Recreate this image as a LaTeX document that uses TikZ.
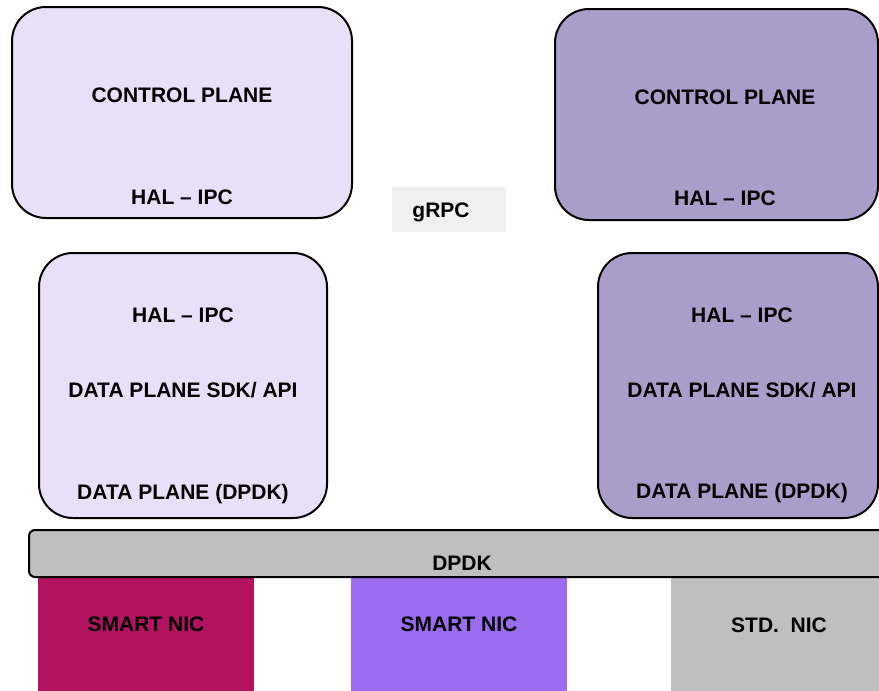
\documentclass[tikz,border=0pt]{standalone}
\usepackage{fontspec}
\setmainfont{Liberation Sans}
\definecolor{lilac}{RGB}{232,224,248}
\definecolor{lavender}{RGB}{169,157,202}
\definecolor{greybar}{RGB}{191,191,191}
\definecolor{grpcbg}{RGB}{240,240,240}
\definecolor{magentanic}{RGB}{179,18,97}
\definecolor{violetnic}{RGB}{155,107,240}
\tikzset{
  panel/.style={draw=black, line width=2pt, rounded corners=34pt},
  lbl/.style={font=\fontsize{21}{24}\selectfont\bfseries, inner sep=0pt, text=black},
}
\begin{document}
\begin{tikzpicture}[x=1pt,y=-1pt]
\useasboundingbox (0,0) rectangle (879,691);
\clip (0,0) rectangle (879,691);
% control plane panels
\draw[panel, fill=lilac] (12,7) rectangle (352,218);
\node[lbl] (cpL) at (182,95) {CONTROL PLANE};
\node[lbl] (halL) at (182,197) {HAL – IPC};
\draw[panel, fill=lavender] (555,9) rectangle (878,220);
\node[lbl] (cpR) at (725,97) {CONTROL PLANE};
\node[lbl] (halR) at (725,198) {HAL – IPC};
% gRPC tag
\fill[grpcbg] (392,187) rectangle (506,232);
\node[lbl] (grpc) at (441,212) {gRPC};
% data plane panels
\draw[panel, fill=lilac] (39,253) rectangle (327,518);
\node[lbl] (dhalL) at (183,315) {HAL – IPC};
\node[lbl] (sdkL) at (183,390) {DATA PLANE SDK/ API};
\node[lbl] (dpL) at (183,494) {DATA PLANE (DPDK)};
\draw[panel, fill=lavender] (598,253) rectangle (878,518);
\node[lbl] (dhalR) at (742,315) {HAL – IPC};
\node[lbl] (sdkR) at (742,390) {DATA PLANE SDK/ API};
\node[lbl] (dpR) at (742,493) {DATA PLANE (DPDK)};
% NIC blocks
\fill[magentanic] (38,577) rectangle (254,700);
\node[lbl] (nic1) at (146,624) {SMART NIC};
\fill[violetnic] (351,577) rectangle (567,700);
\node[lbl] (nic2) at (459,624) {SMART NIC};
\fill[greybar] (671,577) rectangle (890,700);
\node[lbl] (nic3) at (779,625) {STD.\ \ NIC};
% DPDK bar
\draw[fill=greybar, draw=black, line width=2pt, rounded corners=6pt] (29,530) rectangle (900,577);
\node[lbl] (dpdk) at (462,563) {DPDK};
\end{tikzpicture}
\end{document}
